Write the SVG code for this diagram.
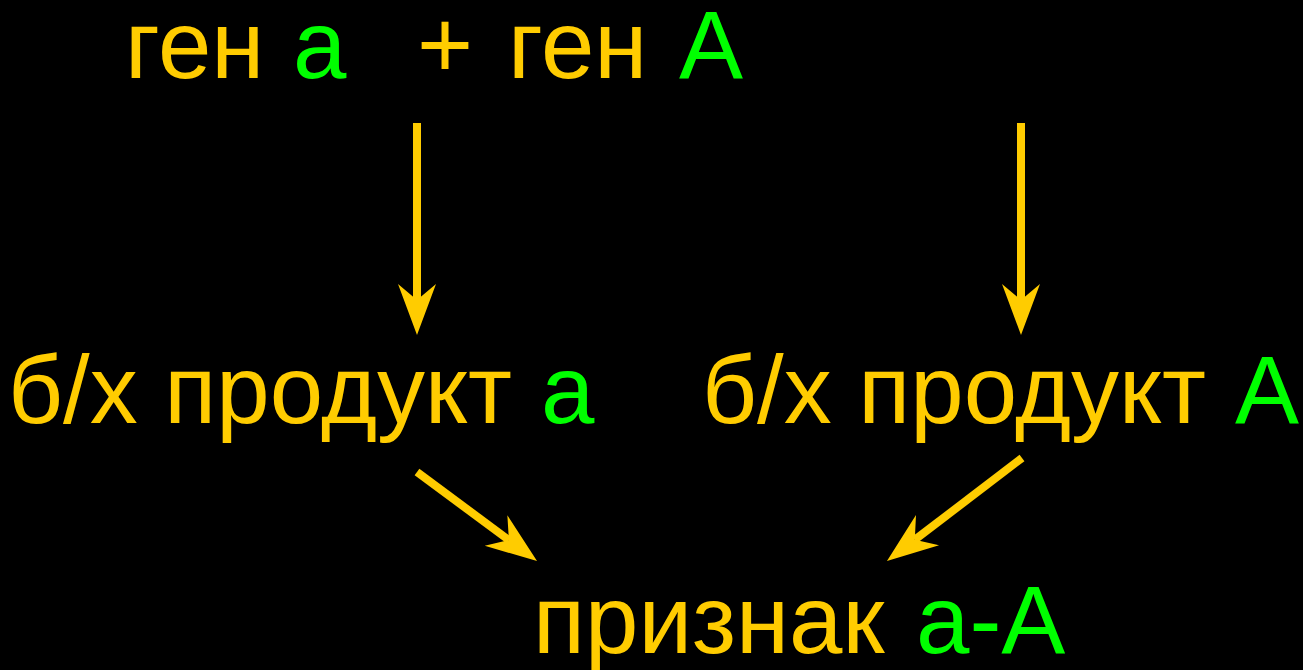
<svg xmlns="http://www.w3.org/2000/svg" width="1303" height="670" viewBox="0 0 1303 670">
<style>
text{font-family:"Liberation Sans",Arial,sans-serif;font-size:96px;fill:#FFCC00}
.g{fill:#00FF00}
.c{stroke:#FFCC00;stroke-width:8;fill:none}
</style>
<defs>
<marker id="ah" markerUnits="userSpaceOnUse" viewBox="-20 -20 60 40" markerWidth="60" markerHeight="40" refX="0" refY="0" orient="auto">
<path d="M35,0 L-16,-19 L0,0 L-16,19 Z" fill="#FFCC00"/>
</marker>
</defs>
<rect width="1303" height="670" fill="#000"/>
<g id="top">
<text x="125" y="78">ген</text>
<text class="g" x="293" y="78">а</text>
<text x="417" y="78">+</text>
<text x="508" y="78">ген</text>
<text class="g" x="679" y="78">А</text>
</g>
<g id="prodA_small">
<text x="8" y="423">б/х продукт</text>
<text class="g" x="541" y="423">а</text>
</g>
<g id="prodA_big">
<text x="702" y="423">б/х продукт</text>
<text class="g" x="1235" y="423">А</text>
</g>
<g id="trait">
<text x="533" y="653">признак</text>
<text class="g" x="916" y="653">а-А</text>
</g>
<g id="connectors">
<line class="c" x1="417" y1="123" x2="417" y2="300" marker-end="url(#ah)"/>
<line class="c" x1="1021" y1="123" x2="1021" y2="300" marker-end="url(#ah)"/>
<line class="c" x1="417" y1="472" x2="508.9" y2="540.1" marker-end="url(#ah)"/>
<line class="c" x1="1022" y1="458" x2="914.8" y2="539.8" marker-end="url(#ah)"/>
</g>
</svg>
